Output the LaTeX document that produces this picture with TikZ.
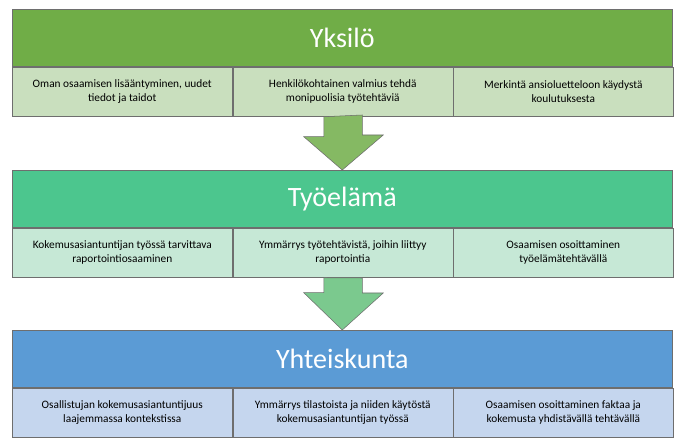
\documentclass[tikz,border=0pt]{standalone}
\usepackage{fontspec}
\setmainfont{Carlito}
\usetikzlibrary{positioning}
\definecolor{gHead}{HTML}{70AD47}
\definecolor{gBox}{HTML}{C9DFBE}
\definecolor{tHead}{HTML}{4CC68E}
\definecolor{tBox}{HTML}{C6E8D6}
\definecolor{bHead}{HTML}{5B9BD5}
\definecolor{bBox}{HTML}{C5D6EE}
\definecolor{edge}{HTML}{6E6E6E}
\tikzset{
  head/.style={draw=edge, minimum width=495pt, minimum height=43pt, inner sep=0pt, font=\fontsize{21}{24}\selectfont, text=white},
  sub/.style={draw=edge, minimum width=165pt, minimum height=37pt, inner sep=2pt, align=center, font=\fontsize{8.5}{10.5}\selectfont},
  down/.style={draw=edge, fill=#1}
}
\begin{document}
\begin{tikzpicture}[x=0.75pt, y=-0.75pt]
\useasboundingbox[fill=white] (0,0) rectangle (690,448);
% Yksilo
\node[head, fill=gHead, anchor=north west] (h1) at (12,9) {Yksilö};
\node[sub, fill=gBox, anchor=north west] (a1) at (h1.south west) {Oman osaamisen lisääntyminen, uudet\\tiedot ja taidot};
\node[sub, fill=gBox, right=0pt of a1] (a2) {Henkilökohtainen valmius tehdä\\monipuolisia työtehtäviä};
\node[sub, fill=gBox, right=0pt of a2] (a3) {Merkintä ansioluetteloon käydystä\\koulutuksesta};
% Tyoelama
\node[head, fill=tHead, anchor=north west] (h2) at (12,170) {Työelämä};
\node[sub, fill=tBox, anchor=north west] (b1) at (h2.south west) {Kokemusasiantuntijan työssä tarvittava\\raportointiosaaminen};
\node[sub, fill=tBox, right=0pt of b1] (b2) {Ymmärrys työtehtävistä, joihin liittyy\\raportointia};
\node[sub, fill=tBox, right=0pt of b2] (b3) {Osaamisen osoittaminen\\työelämätehtävällä};
% Yhteiskunta
\node[head, fill=bHead, anchor=north west] (h3) at (12,330) {Yhteiskunta};
\node[sub, fill=bBox, anchor=north west] (c1) at (h3.south west) {Osallistujan kokemusasiantuntijuus\\laajemmassa kontekstissa};
\node[sub, fill=bBox, right=0pt of c1] (c2) {Ymmärrys tilastoista ja niiden käytöstä\\kokemusasiantuntijan työssä};
\node[sub, fill=bBox, right=0pt of c2] (c3) {Osaamisen osoittaminen faktaa ja\\kokemusta yhdistävällä tehtävällä};
% arrows
\draw[down=gHead!85!white] (a2.south) ++(-19,0) -- ++(0,20) -- ++(-20,0) -- (h2.north) -- ++(41,-35) -- ++(-21,0) -- ++(0,-20) -- cycle;
\draw[down=tHead!60!gHead!80!white] (b2.south) ++(-19,0) -- ++(0,15) -- ++(-20,0) -- (h3.north) -- ++(41,-37) -- ++(-21,0) -- ++(0,-15) -- cycle;
\end{tikzpicture}
\end{document}
